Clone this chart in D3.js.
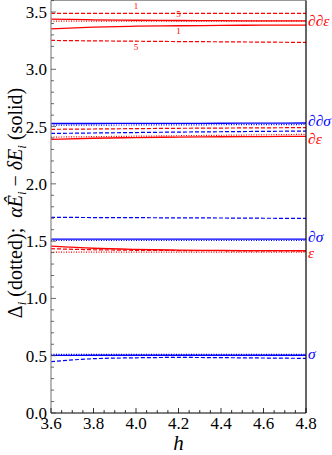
<!DOCTYPE html>
<html>
<head>
<meta charset="utf-8">
<script src="https://cdn.jsdelivr.net/npm/d3@7"></script>
<style>
  body { margin: 0; background: #fff; }
</style>
</head>
<body>
<div id="chart"></div>
<script>
// valores de h donde se leen las curvas
const hValues = [3.6, 3.8, 4.0, 4.2, 4.4, 4.6, 4.8];
const xTicks = [3.6, 3.8, 4.0, 4.2, 4.4, 4.6, 4.8];
const yTicks = [0.0, 0.5, 1.0, 1.5, 2.0, 2.5, 3.0, 3.5];

// ∂∂ε (rojo)
const ddEpsDashed1 = [3.488, 3.488, 3.488, 3.488, 3.488, 3.488, 3.488];
const ddEpsDashed5 = [3.252, 3.248, 3.245, 3.242, 3.240, 3.237, 3.235];
const ddEpsDotted = [3.420, 3.420, 3.420, 3.420, 3.420, 3.420, 3.420];
const ddEpsSolid5 = [3.438, 3.432, 3.428, 3.426, 3.424, 3.423, 3.423];
const ddEpsSolid1 = [3.353, 3.368, 3.376, 3.380, 3.383, 3.385, 3.386];

// ∂∂σ (azul)
const ddSigSolid = [2.527, 2.527, 2.528, 2.528, 2.529, 2.530, 2.531];
const ddSigDotted = [2.512, 2.513, 2.514, 2.515, 2.516, 2.517, 2.518];
const ddSigDashed = [2.440, 2.444, 2.448, 2.452, 2.455, 2.458, 2.461];

// ∂ε (rojo)
const dEpsDashed = [2.476, 2.479, 2.482, 2.485, 2.487, 2.489, 2.491];
const dEpsDotted = [2.408, 2.412, 2.416, 2.420, 2.424, 2.428, 2.432];
const dEpsSolid = [2.388, 2.398, 2.404, 2.408, 2.411, 2.413, 2.414];

// ∂σ (azul)
const dSigSolid = [1.518, 1.518, 1.518, 1.518, 1.518, 1.518, 1.518];
const dSigDotted = [1.507, 1.507, 1.507, 1.507, 1.507, 1.507, 1.507];
const dSigDashed = [1.708, 1.706, 1.705, 1.703, 1.702, 1.700, 1.699];

// ε (rojo)
const epsSolid = [1.457, 1.438, 1.428, 1.422, 1.419, 1.417, 1.416];
const epsDashed = [1.434, 1.425, 1.420, 1.418, 1.416, 1.415, 1.415];
const epsDotted = [1.405, 1.405, 1.405, 1.405, 1.405, 1.405, 1.405];

// σ (azul)
const sigSolid = [0.503, 0.504, 0.504, 0.504, 0.504, 0.504, 0.504];
const sigDotted = [0.512, 0.512, 0.512, 0.512, 0.512, 0.512, 0.512];
const sigDashed = [0.448, 0.474, 0.482, 0.485, 0.483, 0.480, 0.477];

const RED = '#ff0000';
const BLUE = '#0000ff';
const SERIF = "'Liberation Serif'";

// lista de curvas: valores, color y estilo
const curves = [
  [ddEpsDashed1, RED, 'dashed'], [ddEpsDashed5, RED, 'dashed'], [ddEpsDotted, RED, 'dotted'],
  [ddEpsSolid5, RED, 'solid'], [ddEpsSolid1, RED, 'solid'],
  [ddSigDashed, BLUE, 'dashed'], [ddSigDotted, BLUE, 'dotted'], [ddSigSolid, BLUE, 'solid'],
  [dEpsDashed, RED, 'dashed'], [dEpsDotted, RED, 'dotted'], [dEpsSolid, RED, 'solid'],
  [dSigDashed, BLUE, 'dashed'], [dSigDotted, BLUE, 'dotted'], [dSigSolid, BLUE, 'solid'],
  [epsDotted, RED, 'dotted'], [epsSolid, RED, 'solid'], [epsDashed, RED, 'dashed'],
  [sigDashed, BLUE, 'dashed'], [sigDotted, BLUE, 'dotted'], [sigSolid, BLUE, 'solid'],
];

// etiquetas a la derecha
const rightLabels = [
  ['∂∂ε', 3.42, RED], ['∂∂σ', 2.545, BLUE], ['∂ε', 2.395, RED],
  ['∂σ', 1.54, BLUE], ['ε', 1.395, RED], ['σ', 0.515, BLUE],
];
// pequeñas etiquetas 1 / 5 sobre las curvas de ∂∂ε
const curveTags = [
  ['1', 4.0, ddEpsDashed1, -4], ['5', 4.0, ddEpsDashed5, 9],
  ['5', 4.2, ddEpsSolid5, -3], ['1', 4.2, ddEpsSolid1, 8],
];

const W = 332, H = 455;
const margin = { top: 0.5, right: 26, bottom: 42, left: 51 };
const width = W - margin.left - margin.right;
const height = 413 - margin.top;

const svg = d3.select('#chart').append('svg')
  .attr('width', W).attr('height', H);
const g = svg.append('g')
  .attr('transform', `translate(${margin.left},${margin.top})`);

const x = d3.scaleLinear().domain([3.6, 4.8]).range([0, width]);
const y = d3.scaleLinear().domain([0, 3.5]).range([height, 12 - margin.top]);

// curvas
const line = d3.line()
  .x((d, i) => x(hValues[i]))
  .y((d) => y(d))
  .curve(d3.curveMonotoneX);

const dash = { solid: null, dashed: '4,2', dotted: '1,1.5' };

curves.forEach(([vals, color, style]) => {
  g.append('path')
    .attr('d', line(vals))
    .attr('fill', 'none')
    .attr('stroke', color)
    .attr('stroke-width', style === 'solid' ? 1.3 : 1.2)
    .attr('stroke-dasharray', dash[style]);
});

// marco
g.append('line').attr('x1', 0).attr('x2', width).attr('y1', 0).attr('y2', 0)
  .attr('stroke', '#999').attr('stroke-width', 1);
g.append('line').attr('x1', 0).attr('x2', 0).attr('y1', 0).attr('y2', height)
  .attr('stroke', '#888').attr('stroke-width', 1.2);
g.append('line').attr('x1', width).attr('x2', width).attr('y1', 0).attr('y2', height)
  .attr('stroke', '#000').attr('stroke-width', 1.2);
g.append('line').attr('x1', 0).attr('x2', width).attr('y1', height).attr('y2', height)
  .attr('stroke', '#000').attr('stroke-width', 1.2);

// marcas del eje x (hacia adentro)
const xMinor = d3.range(3.6, 4.8001, 0.05);
g.append('g').selectAll('line').data(xMinor).join('line')
  .attr('x1', (d) => x(d)).attr('x2', (d) => x(d))
  .attr('y1', height)
  .attr('y2', (d, i) => height - (i % 4 === 0 ? 5 : 3))
  .attr('stroke', '#000').attr('stroke-width', 0.8);

g.append('g').selectAll('text').data(xTicks).join('text')
  .attr('x', (d) => x(d)).attr('y', height + 16)
  .attr('text-anchor', 'middle')
  .style('font-family', SERIF)
  .style('font-size', '17px')
  .text((d) => d.toFixed(1));

// marcas del eje y
const yMinor = d3.range(0, 3.6001, 0.1);
g.append('g').selectAll('line').data(yMinor).join('line')
  .attr('x1', 0)
  .attr('x2', (d, i) => (i % 5 === 0 ? 5 : 3))
  .attr('y1', (d) => y(d)).attr('y2', (d) => y(d))
  .attr('stroke', '#444').attr('stroke-width', 0.8);

g.append('g').selectAll('text').data(yTicks).join('text')
  .attr('x', -4).attr('y', (d) => y(d))
  .attr('dy', '0.35em')
  .attr('text-anchor', 'end')
  .style('font-family', SERIF)
  .style('font-size', '17px')
  .text((d) => d.toFixed(1));

// etiquetas a la derecha
g.append('g').selectAll('text').data(rightLabels).join('text')
  .attr('x', width + 2).attr('y', (d) => y(d[1]))
  .attr('dy', '0.32em')
  .style('font-family', SERIF)
  .style('font-size', '15.5px').style('font-style', 'italic')
  .attr('fill', (d) => d[2])
  .text((d) => d[0]);

// etiquetas 1 / 5
g.append('g').selectAll('text').data(curveTags).join('text')
  .attr('x', (d) => x(d[1]))
  .attr('y', (d) => y(d[2][hValues.indexOf(d[1])]) + d[3])
  .attr('text-anchor', 'middle')
  .style('font-family', SERIF)
  .style('font-size', '9px')
  .attr('fill', RED)
  .text((d) => d[0]);

// título eje x
svg.append('text')
  .attr('x', margin.left + x(4.2)).attr('y', 450)
  .attr('text-anchor', 'middle')
  .style('font-family', SERIF)
  .style('font-size', '21px').style('font-style', 'italic')
  .text('h');

// título eje y
const yt = svg.append('text')
  .attr('transform', `translate(22, ${203}) rotate(-90)`)
  .attr('text-anchor', 'middle')
  .style('font-family', SERIF)
  .style('font-size', '20px');
yt.append('tspan').text('Δ');
yt.append('tspan').style('font-style', 'italic').style('font-size', '13px').attr('dy', 4).text('i');
yt.append('tspan').attr('dy', -4).text('\u00a0(dotted);\u00a0\u00a0');
yt.append('tspan').style('font-style', 'italic').text('αÊ');
yt.append('tspan').style('font-style', 'italic').style('font-size', '13px').attr('dy', 4).text('i');
yt.append('tspan').attr('dy', -4).text('\u00a0−\u00a0');
yt.append('tspan').style('font-style', 'italic').text('δE');
yt.append('tspan').style('font-style', 'italic').style('font-size', '13px').attr('dy', 4).text('i');
yt.append('tspan').attr('dy', -4).text('\u00a0(solid)');
</script>
</body>
</html>
